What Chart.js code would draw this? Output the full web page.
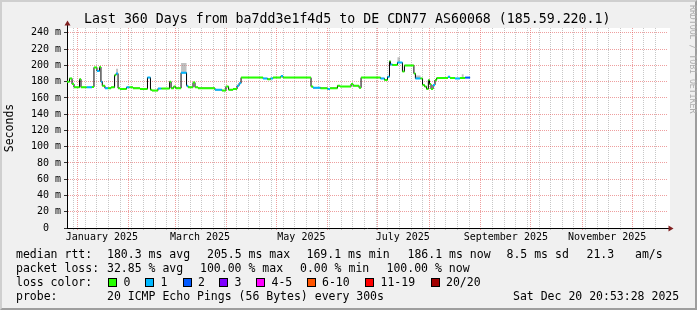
<!DOCTYPE html>
<html>
<head>
<meta charset="utf-8">
<script src="https://cdn.jsdelivr.net/npm/chart.js@4.4.1/dist/chart.umd.min.js"></script>
<style>
body { margin: 0; background: #fff; }
#wrap { position: relative; width: 697px; height: 310px; background: #f0f0f0; overflow: hidden;
  font-family: 'DejaVu Sans Mono', monospace; color: #000; }
#frame { position: absolute; left: 0; top: 0; width: 697px; height: 310px; box-sizing: border-box;
  border-top: 2px solid #cfcfcf; border-left: 2px solid #cfcfcf;
  border-right: 2px solid #9e9e9e; border-bottom: 2px solid #9e9e9e; }
#chart { position: absolute; left: 0; top: 0; }
#title { position: absolute; left: 84px; top: 11px; font-size: 13.25px; line-height: 16px; white-space: pre; }
#side { position: absolute; left: 688px; top: 5px; writing-mode: vertical-rl; font-size: 8.2px;
  line-height: 10px; color: #adadad; white-space: pre; }
.t { position: absolute; white-space: pre; font-size: 11.5px; line-height: 14px; }
.sw { position: absolute; width: 7px; height: 7px; border: 1px solid #000; top: 278px; }
</style>
</head>
<body>
<div id="wrap">
  <div id="frame"></div>
  <canvas id="chart" width="697" height="310"></canvas>
  <div id="title">Last 360 Days from ba7dd3e1f4d5 to DE CDN77 AS60068 (185.59.220.1)</div>
  <div id="side">RRDTOOL / TOBI OETIKER</div>

  <div class="t" style="left:16px;top:247px">median rtt:</div>
  <div class="t" style="left:107px;top:247px">180.3 ms avg</div>
  <div class="t" style="left:207px;top:247px">205.5 ms max</div>
  <div class="t" style="left:306.5px;top:247px">169.1 ms min</div>
  <div class="t" style="left:407.5px;top:247px">186.1 ms now</div>
  <div class="t" style="left:506.5px;top:247px">8.5 ms sd</div>
  <div class="t" style="left:586.5px;top:247px">21.3</div>
  <div class="t" style="left:635px;top:247px">am/s</div>

  <div class="t" style="left:16px;top:261px">packet loss:</div>
  <div class="t" style="left:107px;top:261px">32.85 % avg</div>
  <div class="t" style="left:200px;top:261px">100.00 % max</div>
  <div class="t" style="left:300px;top:261px">0.00 % min</div>
  <div class="t" style="left:386.5px;top:261px">100.00 % now</div>

  <div class="t" style="left:16px;top:275px">loss color:</div>
  <div id="losslegend"></div>

  <div class="t" style="left:16px;top:289px">probe:</div>
  <div class="t" style="left:107px;top:289px">20 ICMP Echo Pings (56 Bytes) every 300s</div>
  <div class="t" style="left:513px;top:289px">Sat Dec 20 20:53:28 2025</div>
</div>
<script>
// Eje X: días contados desde el 1 de enero de 2025
const xMin = -6.02;
const xMax = 354.98;
const monthStarts = [0, 31, 59, 90, 120, 151, 181, 212, 243, 273, 304, 334];
const firstMonday = -2;
const monthLabels = ['January 2025', 'March 2025', 'May 2025', 'July 2025', 'September 2025', 'November 2025'];
const monthLabelDays = [15, 74, 135, 196, 258, 319];

// Eje Y (ms)
const yMax = 246;
const yLabelStep = 20;
const yGridStep = 10;

// Colores de pérdida (pings perdidos de 20)
const lossLabels = ['0', '1', '2', '3', '4-5', '6-10', '11-19', '20/20'];
const lossUpper = [0, 1, 2, 3, 5, 10, 19, 20];
const lossColors = ['#26ff00', '#00b8ff', '#0059ff', '#7e00ff', '#ff00ff', '#ff5500', '#ff0000', '#a10000'];

// Mediana rtt (ms), cada valor vale hasta el siguiente día
const medDays = [-6.0, -4.5, -3.0, -1.8, 1.5, 2.4, 5.7, 9.0, 10.2, 12.0, 13.5, 14.4, 15.2, 16.8, 18.7, 20.5,
  22.6, 23.5, 24.7, 25.9, 29.8, 31.6, 33.7, 37.9, 42.4, 44.2, 45.1, 48.7, 50.8, 55.7, 56.6, 58.2, 59.4,
  62.6, 65.9, 66.8, 69.8, 71.0, 72.8, 83.0, 87.2, 89.6, 91.2, 93.9, 96.3, 97.5, 98.7, 111.9, 114.6, 116.4,
  117.9, 122.7, 123.9, 140.8, 142.0, 146.5, 150.7, 152.2, 156.7, 158.2, 164.9, 166.1, 169.7, 170.9, 182.6,
  185.0, 186.8, 188.0, 188.6, 189.8, 192.8, 195.8, 197.0, 202.7, 203.6, 206.7, 207.9, 209.1, 210.3, 211.4,
  212.1, 213.0, 214.2, 215.4, 216.4, 223.2, 224.4, 227.4, 230.4, 233.5];
const medValues = [180, 184, 177, 173, 183, 173, 173, 173.5, 197.5, 193, 198, 180, 175, 172, 172, 173,
  188, 190, 172, 171, 173, 173, 172, 171, 185, 170, 169, 171.5, 171.5, 180, 172, 174, 172,
  191, 175, 173, 179, 173, 172, 170, 169, 174, 170, 171, 175, 178, 185, 184, 183, 184,
  185, 187, 185, 174, 172.5, 172, 171, 172, 175, 174, 177, 175, 172.5, 185, 184,
  182, 186, 205, 201, 200.5, 203.5, 192.5, 200, 190, 184, 184, 176, 174, 171, 182,
  177, 171, 176, 182, 184.5, 186, 184.5, 184, 184.5, 185];
const medLoss = [0, 0, 0, 0, 0, 0, 1, 0, 0, 1, 0, 1, 0, 1, 0, 0,
  0, 1, 0, 0, 1, 0, 0, 0, 1, 0, 0, 1, 0, 0, 0, 0, 0,
  1, 1, 0, 0, 0, 0, 1, 0, 0, 0, 0, 1, 1, 0, 1, 0, 1,
  0, 1, 0, 0, 1, 0, 1, 0, 0, 0, 0, 0, 0, 0, 1,
  0, 1, 0, 1, 0, 1, 0, 0, 0, 1, 0, 0, 0, 0, 0,
  0, 0, 1, 0, 0, 1, 0, 1, 0, 2];
const medEnd = 236.5;

// Humo (dispersión de los pings)
const smokeStart = [23.5, 62.6, 192.8, 203.6, 231.5];
const smokeEnd = [24.7, 65.9, 194.3, 206.7, 232.6];
const smokeLow = [189, 191, 203, 184, 185];
const smokeHigh = [196, 203, 210, 187.5, 189];

const FONT = 'DejaVu Sans Mono';
const MGRID = 'rgba(224, 80, 80, 0.55)';
const GRID = 'rgba(143, 143, 143, 0.5)';

function lossClass(n) {
    return lossUpper.findIndex(u => n <= u);
}

// Leyenda de colores de pérdida
const swatchX = [108, 145, 182.5, 219, 256, 306.5, 365, 430.5];
const legend = document.getElementById('losslegend');
lossLabels.forEach((lab, i) => {
    const sw = document.createElement('div');
    sw.className = 'sw';
    sw.style.left = swatchX[i] + 'px';
    sw.style.background = lossColors[i];
    legend.appendChild(sw);
    const t = document.createElement('div');
    t.className = 't';
    t.style.left = (swatchX[i] + 15.5) + 'px';
    t.style.top = '275px';
    t.textContent = lab;
    legend.appendChild(t);
});

// Marcas del eje X
const weekly = [];
for (let d = firstMonday; d < xMax; d += 7) {
    if (d > xMin && !monthStarts.includes(d)) weekly.push(d);
}
const xTicks = [...monthStarts, ...weekly, ...monthLabelDays].sort((a, b) => a - b);

function xLineColor(v) {
    if (monthStarts.includes(v)) return MGRID;
    if (weekly.includes(v)) return GRID;
    return 'rgba(0,0,0,0)';
}

const yTicks = [];
for (let v = 0; v <= 240; v += yGridStep) yTicks.push(v);
yTicks.push(yMax);

// Datasets
const datasets = [];
lossColors.forEach((color, k) => {
    const data = [];
    medDays.forEach((d, i) => {
        if (lossClass(medLoss[i]) !== k) return;
        const next = i + 1 < medDays.length ? medDays[i + 1] : medEnd;
        data.push({ x: d, y: medValues[i] }, { x: next, y: medValues[i] }, { x: next, y: null });
    });
    if (data.length) {
        datasets.push({ data, borderColor: color, borderWidth: 2, borderCapStyle: 'butt',
            pointRadius: 0, spanGaps: false, order: 0 });
    }
});

const stepData = medDays.map((d, i) => ({ x: d, y: medValues[i] }));
stepData.push({ x: medEnd, y: medValues[medValues.length - 1] });
datasets.push({ data: stepData, stepped: true, borderColor: '#000', borderWidth: 1, pointRadius: 0, order: 1 });

smokeStart.forEach((s, i) => {
    datasets.push({
        data: [{ x: s, y: smokeLow[i] }, { x: s, y: smokeHigh[i] },
               { x: smokeEnd[i], y: smokeHigh[i] }, { x: smokeEnd[i], y: smokeLow[i] }],
        fill: 'shape', backgroundColor: 'rgba(140,140,140,0.55)', borderColor: 'rgba(0,0,0,0)',
        borderWidth: 1, pointRadius: 0, order: 2
    });
});

// Fondo blanco del área y flechas de ejes
const rrdDecor = {
    id: 'rrdDecor',
    beforeDraw(chart) {
        const { ctx, chartArea: a } = chart;
        ctx.save();
        ctx.fillStyle = '#fff';
        ctx.fillRect(a.left, a.top, a.right - a.left + 3, a.bottom - a.top);
        ctx.restore();
    },
    afterDraw(chart) {
        const { ctx, chartArea: a } = chart;
        ctx.save();
        ctx.strokeStyle = '#000';
        ctx.lineWidth = 1;
        ctx.beginPath();
        ctx.moveTo(a.left + 0.5, a.top);
        ctx.lineTo(a.left + 0.5, a.top - 3);
        ctx.moveTo(a.right, a.bottom + 0.5);
        ctx.lineTo(a.right + 2, a.bottom + 0.5);
        ctx.stroke();
        ctx.fillStyle = '#802020';
        ctx.beginPath();
        ctx.moveTo(a.left + 0.5, a.top - 7.5);
        ctx.lineTo(a.left - 2.5, a.top - 2.5);
        ctx.lineTo(a.left + 3.5, a.top - 2.5);
        ctx.closePath();
        ctx.fill();
        ctx.beginPath();
        ctx.moveTo(a.right + 6.5, a.bottom + 0.5);
        ctx.lineTo(a.right + 1.5, a.bottom - 2.5);
        ctx.lineTo(a.right + 1.5, a.bottom + 3.5);
        ctx.closePath();
        ctx.fill();
        ctx.restore();
    }
};

new Chart(document.getElementById('chart'), {
    type: 'line',
    data: { datasets },
    plugins: [rrdDecor],
    options: {
        responsive: false,
        animation: false,
        events: [],
        layout: { padding: { left: 0, right: 30, top: 28, bottom: 0 } },
        plugins: { legend: { display: false }, tooltip: { enabled: false } },
        scales: {
            x: {
                type: 'linear',
                min: xMin,
                max: xMax,
                afterBuildTicks: s => { s.ticks = xTicks.map(v => ({ value: v })); },
                afterFit: s => { s.height = 82; },
                grid: {
                    color: ctx => xLineColor(ctx.tick.value),
                    tickColor: ctx => xLineColor(ctx.tick.value),
                    tickLength: 2,
                    lineWidth: 1
                },
                border: { color: '#000', width: 1, dash: [1, 1] },
                ticks: {
                    autoSkip: false,
                    maxRotation: 0,
                    padding: 1,
                    color: '#000',
                    font: { family: FONT, size: 10 },
                    callback: v => {
                        const i = monthLabelDays.indexOf(v);
                        return i >= 0 ? monthLabels[i] : '';
                    }
                }
            },
            y: {
                min: 0,
                max: yMax,
                afterBuildTicks: s => { s.ticks = yTicks.map(v => ({ value: v })); },
                afterFit: s => { s.width = 67; },
                grid: {
                    color: ctx => (ctx.tick.value % yLabelStep === 0 && ctx.tick.value <= 240) ? MGRID : GRID,
                    tickColor: ctx => (ctx.tick.value % yLabelStep === 0 && ctx.tick.value <= 240) ? '#333' : 'rgba(0,0,0,0)',
                    tickLength: 3,
                    lineWidth: 1
                },
                border: { color: '#000', width: 1, dash: [1, 1] },
                title: {
                    display: true,
                    text: 'Seconds',
                    color: '#000',
                    font: { family: FONT, size: 11.5 },
                    padding: { top: 3, bottom: 0 }
                },
                ticks: {
                    padding: 3,
                    color: '#000',
                    font: { family: FONT, size: 10 },
                    callback: v => {
                        if (v % yLabelStep !== 0 || v > 240) return '';
                        return v === 0 ? '0  ' : v + ' m';
                    }
                }
            }
        }
    }
});
</script>
</body>
</html>
